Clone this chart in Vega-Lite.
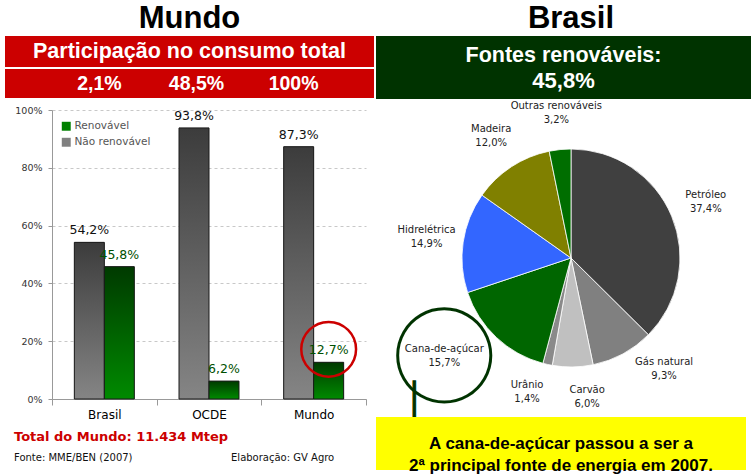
{
  "$schema": "https://vega.github.io/schema/vega-lite/v6.json",
  "background": "#ffffff",
  "padding": {"left": 5, "top": 3, "right": 0, "bottom": 0},
  "config": {
    "locale": {"number": {"decimal": ",", "thousands": ".", "grouping": [3], "currency": ["R$", ""]}},
    "view": {"stroke": null},
    "font": "DejaVu Sans"
  },
  "resolve": {"scale": {"color": "independent"}, "legend": {"color": "independent"}},
  "datasets": {
    "consumo": [
      {"region": "Brasil", "type": "Não renovável", "share": 0.542},
      {"region": "Brasil", "type": "Renovável", "share": 0.458},
      {"region": "OCDE", "type": "Não renovável", "share": 0.938},
      {"region": "OCDE", "type": "Renovável", "share": 0.062},
      {"region": "Mundo", "type": "Não renovável", "share": 0.873},
      {"region": "Mundo", "type": "Renovável", "share": 0.127}
    ],
    "participacao": [
      {"region": "Brasil", "share": 0.021},
      {"region": "OCDE", "share": 0.485},
      {"region": "Mundo", "share": 1.0}
    ],
    "matriz": [
      {"fonte": "Petróleo", "share": 0.374, "rank": 1},
      {"fonte": "Gás natural", "share": 0.093, "rank": 2},
      {"fonte": "Carvão", "share": 0.060, "rank": 3},
      {"fonte": "Urânio", "share": 0.014, "rank": 4},
      {"fonte": "Cana-de-açúcar", "share": 0.157, "rank": 5},
      {"fonte": "Hidrelétrica", "share": 0.149, "rank": 6},
      {"fonte": "Madeira", "share": 0.120, "rank": 7},
      {"fonte": "Outras renováveis", "share": 0.032, "rank": 8}
    ],
    "renovaveis": [{"label": "Fontes renováveis:", "share": 0.458}]
  },
  "spacing": 2,
  "hconcat": [
    {
      "title": {"text": "Mundo", "font": "Liberation Sans, Arial, sans-serif", "fontSize": 31, "fontWeight": "bold", "color": "#000000", "anchor": "middle", "frame": "bounds", "offset": 1},
      "spacing": 7,
      "resolve": {"scale": {"color": "independent"}, "legend": {"color": "independent"}},
      "vconcat": [
        {
          "spacing": 2,
          "vconcat": [
            {
              "width": 369, "height": 31,
              "view": {"fill": "#cc0000", "stroke": null},
              "data": {"values": [{}]},
              "mark": {"type": "text", "text": "Participação no consumo total", "font": "Liberation Sans, Arial, sans-serif", "fontSize": 21.5, "fontWeight": "bold", "color": "#ffffff"}
            },
            {
              "width": 369, "height": 29,
              "view": {"fill": "#cc0000", "stroke": null},
              "data": {"name": "participacao"},
              "mark": {"type": "text", "font": "Liberation Sans, Arial, sans-serif", "fontSize": 19.5, "fontWeight": "bold", "color": "#ffffff"},
              "encoding": {
                "x": {"field": "region", "type": "nominal", "sort": ["Brasil", "OCDE", "Mundo"], "scale": {"type": "point", "padding": 0.9, "align": 0.54}, "axis": null},
                "text": {"field": "share", "type": "quantitative", "format": ".1~%"}
              }
            }
          ]
        },
        {
          "width": 361, "height": 289,
          "data": {"name": "consumo"},
          "title": {
            "text": "Total do Mundo: 11.434 Mtep",
            "subtitle": "Fonte: MME/BEN (2007)\u00a0\u00a0\u00a0\u00a0\u00a0\u00a0\u00a0\u00a0\u00a0\u00a0\u00a0\u00a0\u00a0\u00a0\u00a0\u00a0\u00a0\u00a0\u00a0\u00a0\u00a0\u00a0\u00a0\u00a0\u00a0\u00a0\u00a0\u00a0\u00a0\u00a0\u00a0Elaboração: GV Agro",
            "orient": "bottom", "anchor": "start", "frame": "bounds", "dx": 9, "offset": 11,
            "font": "DejaVu Sans", "fontSize": 13, "fontWeight": "bold", "color": "#cc0000",
            "subtitleFont": "DejaVu Sans", "subtitleFontSize": 10, "subtitleColor": "#111111", "subtitlePadding": 9
          },
          "encoding": {
            "x": {"field": "region", "type": "nominal", "sort": ["Brasil", "OCDE", "Mundo"], "scale": {"range": [47, 361], "paddingInner": 0, "paddingOuter": 0},
              "axis": {"title": null, "labelAngle": 0, "labelFontSize": 12, "labelColor": "#000000", "tickBand": "extent", "tickSize": 6, "tickColor": "#999999", "domainColor": "#999999", "labelPadding": 4, "grid": false}},
            "xOffset": {"field": "type", "type": "nominal", "scale": {"domain": ["Não renovável", "Renovável"], "paddingInner": 0, "paddingOuter": 0.745}},
            "y": {"field": "share", "type": "quantitative", "scale": {"domain": [0, 1]},
              "axis": {"title": null, "offset": -47, "format": ".0%", "values": [0, 0.2, 0.4, 0.6, 0.8, 1], "labelFontSize": 9.5, "labelColor": "#333333", "domainColor": "#999999", "tickColor": "#999999", "tickSize": 4, "labelPadding": 6, "gridColor": "#c8c8c8", "gridDash": [3, 3]}}
          },
          "layer": [
            {
              "mark": {"type": "bar"},
              "encoding": {
                "color": {"field": "type", "type": "nominal", "scale": {"domain": ["Renovável", "Não renovável"], "range": ["#008000", "#808080"]},
                  "legend": {"title": null, "orient": "none", "legendX": 54, "legendY": 9, "symbolType": "square", "symbolSize": 80, "symbolStrokeWidth": 0, "labelFontSize": 10.5, "labelColor": "#555555", "labelFont": "DejaVu Sans", "labelOffset": 3, "rowPadding": 5, "fillColor": "#ffffff", "padding": 2}}
              }
            },
            {
              "transform": [{"filter": "datum.type === 'Não renovável'"}],
              "mark": {"type": "bar", "stroke": "#1a1a1a", "strokeWidth": 1,
                "fill": {"gradient": "linear", "x1": 0, "y1": 0, "x2": 0, "y2": 1, "stops": [{"offset": 0, "color": "#3c3c3c"}, {"offset": 1, "color": "#858585"}]}}
            },
            {
              "transform": [{"filter": "datum.type === 'Renovável'"}],
              "mark": {"type": "bar", "stroke": "#1a1a1a", "strokeWidth": 1,
                "fill": {"gradient": "linear", "x1": 0, "y1": 0, "x2": 0, "y2": 1, "stops": [{"offset": 0, "color": "#003a00"}, {"offset": 1, "color": "#008a00"}]}}
            },
            {
              "mark": {"type": "text", "dy": -12, "fontSize": 12.5, "font": "DejaVu Sans"},
              "encoding": {
                "text": {"field": "share", "type": "quantitative", "format": ".1%"},
                "color": {"condition": {"test": "datum.type === 'Renovável'", "value": "#005000"}, "value": "#111111"}
              }
            },
            {
              "transform": [{"filter": "datum.region === 'Mundo' && datum.type === 'Renovável'"}],
              "mark": {"type": "point", "shape": "circle", "filled": false, "size": 3000, "stroke": "#cc0000", "strokeWidth": 2.5, "opacity": 1},
              "encoding": {"yOffset": {"value": -13}}
            }
          ]
        }
      ]
    },
    {
      "title": {"text": "Brasil", "font": "Liberation Sans, Arial, sans-serif", "fontSize": 31, "fontWeight": "bold", "color": "#000000", "anchor": "middle", "frame": "bounds", "offset": 1},
      "spacing": 2,
      "bounds": "flush",
      "vconcat": [
        {
          "width": 375, "height": 63,
          "view": {"fill": "#003300", "stroke": null},
          "data": {"name": "renovaveis"},
          "layer": [
            {
              "mark": {"type": "text", "dy": -12, "font": "Liberation Sans, Arial, sans-serif", "fontSize": 21.5, "fontWeight": "bold", "color": "#ffffff"},
              "encoding": {"text": {"field": "label", "type": "nominal"}}
            },
            {
              "mark": {"type": "text", "dy": 13, "font": "Liberation Sans, Arial, sans-serif", "fontSize": 22, "fontWeight": "bold", "color": "#ffffff"},
              "encoding": {"text": {"field": "share", "type": "quantitative", "format": ".1%"}}
            }
          ]
        },
        {
          "width": 390, "height": 314,
          "data": {"name": "matriz"},
          "encoding": {
            "theta": {"field": "share", "type": "quantitative", "stack": true},
            "order": {"field": "rank", "type": "quantitative"}
          },
          "layer": [
            {
              "mark": {"type": "arc", "outerRadius": 109, "stroke": "#ffffff", "strokeWidth": 0.8},
              "encoding": {
                "color": {"field": "fonte", "type": "nominal", "legend": null,
                  "scale": {"domain": ["Petróleo", "Gás natural", "Carvão", "Urânio", "Cana-de-açúcar", "Hidrelétrica", "Madeira", "Outras renováveis"],
                    "range": ["#404040", "#808080", "#c0c0c0", "#8a8a8a", "#006600", "#3366ff", "#808000", "#006e00"]}}
              }
            },
            {
              "mark": {"type": "text", "radius": 146, "dy": -7, "fontSize": 10, "font": "DejaVu Sans", "color": "#222222"},
              "encoding": {"text": {"condition": {"test": "indexof(['Gás natural','Carvão','Urânio','Cana-de-açúcar'], datum.fonte) >= 0", "value": ""}, "field": "fonte", "type": "nominal"}}
            },
            {
              "mark": {"type": "text", "radius": 146, "dy": 7, "fontSize": 10, "font": "DejaVu Sans", "color": "#222222"},
              "encoding": {"text": {"condition": {"test": "indexof(['Gás natural','Carvão','Urânio','Cana-de-açúcar'], datum.fonte) >= 0", "value": ""}, "field": "share", "type": "quantitative", "format": ".1%"}}
            },
            {
              "mark": {"type": "text", "radius": 145, "thetaOffset": -0.2, "dy": -7, "fontSize": 10, "font": "DejaVu Sans", "color": "#222222"},
              "encoding": {"text": {"condition": {"test": "datum.fonte !== 'Gás natural'", "value": ""}, "field": "fonte", "type": "nominal"}}
            },
            {
              "mark": {"type": "text", "radius": 145, "thetaOffset": -0.2, "dy": 7, "fontSize": 10, "font": "DejaVu Sans", "color": "#222222"},
              "encoding": {"text": {"condition": {"test": "datum.fonte !== 'Gás natural'", "value": ""}, "field": "share", "type": "quantitative", "format": ".1%"}}
            },
            {
              "mark": {"type": "text", "radius": 140, "thetaOffset": -0.1, "dy": -7, "fontSize": 10, "font": "DejaVu Sans", "color": "#222222"},
              "encoding": {"text": {"condition": {"test": "datum.fonte !== 'Carvão'", "value": ""}, "field": "fonte", "type": "nominal"}}
            },
            {
              "mark": {"type": "text", "radius": 140, "thetaOffset": -0.1, "dy": 7, "fontSize": 10, "font": "DejaVu Sans", "color": "#222222"},
              "encoding": {"text": {"condition": {"test": "datum.fonte !== 'Carvão'", "value": ""}, "field": "share", "type": "quantitative", "format": ".1%"}}
            },
            {
              "mark": {"type": "text", "radius": 141, "thetaOffset": 0.1, "dy": -7, "fontSize": 10, "font": "DejaVu Sans", "color": "#222222"},
              "encoding": {"text": {"condition": {"test": "datum.fonte !== 'Urânio'", "value": ""}, "field": "fonte", "type": "nominal"}}
            },
            {
              "mark": {"type": "text", "radius": 141, "thetaOffset": 0.1, "dy": 7, "fontSize": 10, "font": "DejaVu Sans", "color": "#222222"},
              "encoding": {"text": {"condition": {"test": "datum.fonte !== 'Urânio'", "value": ""}, "field": "share", "type": "quantitative", "format": ".1%"}}
            },
            {
              "mark": {"type": "text", "radius": 160, "thetaOffset": 0.159, "dy": -7, "fontSize": 10, "font": "DejaVu Sans", "color": "#222222"},
              "encoding": {"text": {"condition": {"test": "datum.fonte !== 'Cana-de-açúcar'", "value": ""}, "field": "fonte", "type": "nominal"}}
            },
            {
              "mark": {"type": "text", "radius": 160, "thetaOffset": 0.159, "dy": 7, "fontSize": 10, "font": "DejaVu Sans", "color": "#222222"},
              "encoding": {"text": {"condition": {"test": "datum.fonte !== 'Cana-de-açúcar'", "value": ""}, "field": "share", "type": "quantitative", "format": ".1%"}}
            },
            {
              "mark": {"type": "text", "radius": 160, "thetaOffset": 0.159, "dy": -6, "font": "DejaVu Sans", "fill": "transparent", "stroke": "#003300", "strokeWidth": 3},
              "encoding": {
                "text": {"condition": {"test": "datum.fonte === 'Cana-de-açúcar'", "value": "●"}, "value": ""},
                "size": {"condition": {"test": "datum.fonte === 'Cana-de-açúcar'", "value": 122}, "value": 0}
              }
            },
            {
              "mark": {"type": "text", "radius": 160, "thetaOffset": 0.159, "dx": -30, "dy": 44, "font": "DejaVu Sans", "fill": "#003300", "stroke": "#003300", "strokeWidth": 1.2},
              "encoding": {
                "text": {"condition": {"test": "datum.fonte === 'Cana-de-açúcar'", "value": "│"}, "value": ""},
                "size": {"condition": {"test": "datum.fonte === 'Cana-de-açúcar'", "value": 30}, "value": 0}
              }
            }
          ]
        },
        {
          "width": 370, "height": 53,
          "view": {"fill": "#ffff00", "stroke": null},
          "data": {"values": [{}]},
          "mark": {"type": "text", "text": "A cana-de-açúcar passou a ser a\n2ª principal fonte de energia em 2007.", "lineBreak": "\n", "lineHeight": 22, "font": "Liberation Sans, Arial, sans-serif", "fontWeight": "bold", "fontSize": 17, "color": "#000000"}
        }
      ]
    }
  ]
}
